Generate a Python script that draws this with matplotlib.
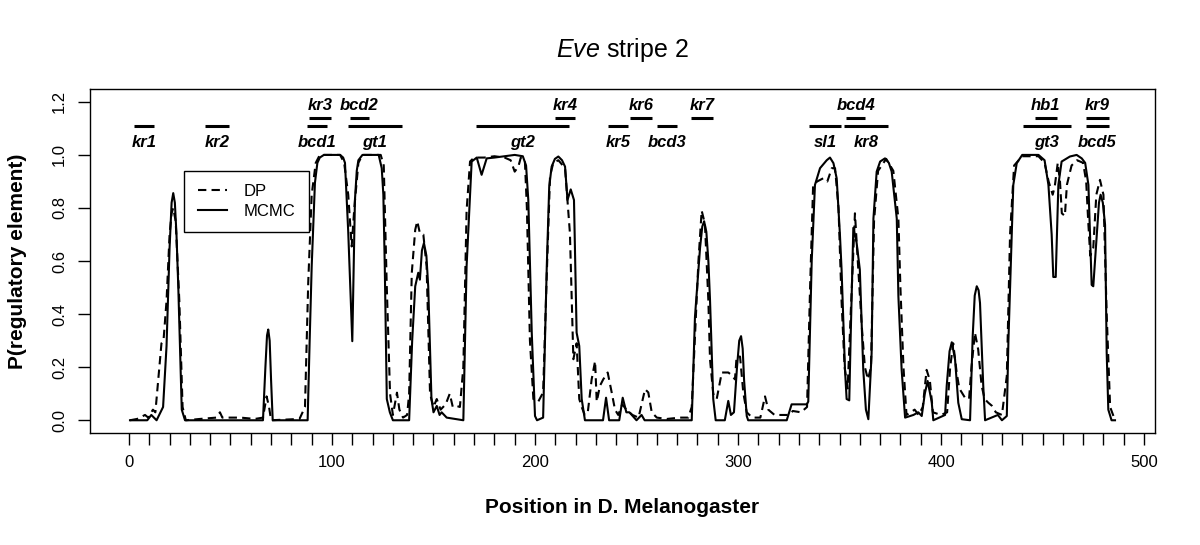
import matplotlib
matplotlib.use('Agg')
import matplotlib.pyplot as plt

plt.rcParams['font.family'] = ['Liberation Sans', 'DejaVu Sans']
plt.rcParams['mathtext.fontset'] = 'custom'
plt.rcParams['mathtext.rm'] = 'Liberation Sans'
plt.rcParams['mathtext.it'] = 'Liberation Sans:italic'

# posterior probability traces, (position, P)
mcmc_pts = [
    (0.5, 0.0), (9, 0.0), (11, 0.02), (13.6, 0.0), (15.5, 0.03), (16.8, 0.05), (18.5, 0.28),
    (20, 0.65), (21, 0.82), (21.8, 0.856), (22.6, 0.82), (23.4, 0.7), (24.3, 0.5), (26, 0.04),
    (27.6, 0.0),
    (66, 0.0), (67.2, 0.2), (68, 0.32), (68.6, 0.342), (69.3, 0.3), (70, 0.15), (70.8, 0.0),
    (88, 0.0), (89, 0.3), (90, 0.58), (91.6, 0.895), (92.8, 0.97), (94, 0.99), (96, 1.0),
    (104, 1.0), (105.5, 0.99), (106.4, 0.97), (108, 0.71), (110, 0.298), (111.3, 0.83),
    (112.2, 0.94), (113, 0.98), (115, 1.0), (123, 1.0), (124.5, 0.95), (125.3, 0.85),
    (126, 0.58), (127, 0.08), (128.5, 0.03), (130, 0.0),
    (138, 0.0), (139.5, 0.3), (141, 0.505), (142.5, 0.556), (143.3, 0.53), (144.3, 0.64),
    (145.3, 0.668), (146.5, 0.62), (147.4, 0.505), (149, 0.08), (150, 0.03), (151.6, 0.054),
    (153, 0.02), (154, 0.03), (156.5, 0.01), (164.7, 0.0),
    (166.3, 0.58), (168.8, 0.975), (171.3, 0.99), (173.7, 0.925), (176.2, 0.987), (180, 0.99),
    (185, 0.995), (190, 1.0), (194, 0.995), (195.6, 0.96), (196.7, 0.83), (198.4, 0.33),
    (200, 0.016), (201, 0.0), (204, 0.01), (205.8, 0.58), (207, 0.88), (208.2, 0.956),
    (209.8, 0.985), (211.5, 0.994), (213.3, 0.98), (214.8, 0.956), (216, 0.83), (217.6, 0.87),
    (219.2, 0.83), (220.5, 0.33), (221.8, 0.28), (223, 0.08), (224.6, 0.0),
    (233.5, 0.0), (235, 0.085), (236.5, 0.0), (241.5, 0.0), (243.2, 0.085), (245, 0.03),
    (246.5, 0.03), (250, 0.0), (252.5, 0.02), (254, 0.0),
    (277.2, 0.0), (278.8, 0.39), (281.3, 0.65), (282.4, 0.73), (283.3, 0.75), (284.4, 0.71),
    (285.4, 0.6), (286.2, 0.455), (287.8, 0.08), (289, 0.0), (293.5, 0.0), (295.2, 0.073),
    (296.5, 0.02), (298, 0.03), (299.5, 0.2), (300.6, 0.3), (301.5, 0.317), (302.3, 0.27),
    (303, 0.15), (304.3, 0.016), (305, 0.0),
    (324, 0.0), (326.4, 0.06), (333.8, 0.06), (334.6, 0.07), (336.3, 0.6), (337.9, 0.887),
    (340.4, 0.95), (343.7, 0.98), (345.3, 0.99), (347, 0.969), (348.6, 0.912), (350.2, 0.7),
    (351, 0.57), (352.7, 0.19), (353.5, 0.08), (354.8, 0.075), (355.5, 0.317), (356.8, 0.725),
    (358.4, 0.67), (360, 0.568), (361.7, 0.19), (363, 0.04), (364.2, 0.004), (365.8, 0.25),
    (366.7, 0.76), (368.3, 0.937), (370, 0.975), (372.4, 0.987), (374.3, 0.97), (375.7, 0.937),
    (378.2, 0.76), (379, 0.467), (380.6, 0.19), (382.3, 0.01),
    (386.4, 0.02), (388.8, 0.03), (390.5, 0.016), (392, 0.1), (393.4, 0.148), (395.4, 0.07),
    (396.2, 0.0), (402, 0.02), (402.8, 0.13), (404.2, 0.26), (405.3, 0.294), (406.9, 0.23),
    (408.5, 0.066), (410.2, 0.004), (414.3, 0.0), (415.6, 0.317), (416.6, 0.47), (417.6, 0.505),
    (418.5, 0.49), (419.2, 0.442), (420.8, 0.13), (421.7, 0.0), (428, 0.02), (430, 0.0),
    (432.4, 0.016), (433.2, 0.3), (435.6, 0.887), (437.3, 0.969), (440, 1.0), (448, 1.0),
    (451, 0.98), (452.9, 0.887), (454.5, 0.7), (455.3, 0.54), (456.5, 0.54), (457.8, 0.887),
    (459.4, 0.975), (463.5, 0.994), (466.8, 1.0), (469.3, 0.987), (471, 0.97), (472.6, 0.887),
    (474.2, 0.51), (475, 0.505), (476.7, 0.70), (477.8, 0.82), (478.6, 0.85), (479.7, 0.82),
    (480.8, 0.737), (481.6, 0.255), (482.4, 0.04), (484, 0.0), (485.7, 0.0),
]

dp_pts = [
    (0.5, 0.0), (4, 0.005), (7.9, 0.02), (9.5, 0.01), (11.8, 0.04), (13, 0.03), (14.4, 0.15),
    (16, 0.29), (17, 0.3), (18.5, 0.45), (20, 0.7), (21, 0.78), (21.8, 0.80), (23, 0.75),
    (24.8, 0.45), (26.4, 0.05), (28, 0.0), (35, 0.005), (43, 0.01), (44.8, 0.03), (46, 0.01),
    (55, 0.01), (62, 0.005), (66, 0.01), (67.8, 0.09), (69, 0.05), (70, 0.0), (84, 0.005),
    (86.7, 0.05), (88.3, 0.52), (90, 0.85), (92, 0.97), (94, 1.0), (104, 1.0), (106, 0.97),
    (108, 0.85), (109.7, 0.655), (111, 0.8), (113, 0.97), (115, 1.0), (124, 1.0), (125.5, 0.96),
    (127, 0.5), (128.6, 0.1), (130, 0.02), (132, 0.104), (133.2, 0.04), (135, 0.01), (137, 0.02),
    (138, 0.1), (139.3, 0.555), (141, 0.718), (142, 0.75), (143.3, 0.705), (145, 0.70),
    (146.6, 0.58), (148.3, 0.1), (150, 0.05), (151.6, 0.08), (153.5, 0.04), (156, 0.06),
    (158, 0.10), (159.5, 0.05), (161.4, 0.054), (163, 0.05), (164.7, 0.2), (166.3, 0.79),
    (168, 0.975), (170, 0.99), (175, 0.99), (180, 0.995), (185, 0.99), (188, 0.98), (190, 0.937),
    (191.8, 0.956), (193, 0.99), (195, 0.98), (196, 0.8), (197.5, 0.3), (199.2, 0.08),
    (201.6, 0.07), (204, 0.105), (205.8, 0.55), (207.4, 0.92), (209, 0.97), (211.5, 0.98),
    (214.8, 0.95), (216, 0.83), (217.2, 0.705), (218.9, 0.23), (220.5, 0.29), (221.8, 0.08),
    (223, 0.05), (224.5, 0.02), (226, 0.03), (227.9, 0.154), (229.6, 0.223), (230.4, 0.07),
    (232, 0.13), (233.6, 0.154), (235.8, 0.18), (237.8, 0.104), (239.4, 0.04), (241, 0.02),
    (243, 0.06), (245, 0.04), (248, 0.02), (251, 0.01), (254.2, 0.117), (255.8, 0.105),
    (257.5, 0.03), (260, 0.01), (265, 0.005), (271.4, 0.01), (275.5, 0.01), (277.2, 0.05),
    (280.5, 0.6), (282.1, 0.79), (283.7, 0.74), (285.4, 0.45), (286.2, 0.23), (287.8, 0.1),
    (289.5, 0.08), (292, 0.18), (295.2, 0.18), (296.9, 0.17), (298.5, 0.154), (299.3, 0.24),
    (301, 0.24), (302.6, 0.104), (304.3, 0.03), (307, 0.01), (311, 0.01), (313.3, 0.09),
    (314.9, 0.04), (318, 0.02), (325, 0.02), (327, 0.035), (331, 0.03), (334, 0.05),
    (335.5, 0.5), (337, 0.887), (339, 0.9), (342, 0.912), (344, 0.9), (346.2, 0.95),
    (347.8, 0.95), (349.5, 0.8), (351, 0.45), (352.5, 0.2), (354, 0.12), (355.5, 0.4),
    (357.6, 0.78), (359, 0.6), (361, 0.35), (362.5, 0.2), (364, 0.154), (365.5, 0.2),
    (367, 0.75), (369, 0.94), (373, 0.985), (376.5, 0.94), (379, 0.76), (380, 0.5),
    (381.5, 0.2), (383, 0.02), (385, 0.03), (387, 0.04), (389, 0.02), (391, 0.05),
    (392.9, 0.19), (394.5, 0.15), (396, 0.03), (400, 0.02), (403, 0.03), (404.5, 0.2),
    (406, 0.29), (407.7, 0.18), (409, 0.12), (411.8, 0.085), (413.8, 0.08), (415, 0.2),
    (416.7, 0.33), (418.3, 0.267), (420, 0.13), (421.5, 0.08), (423.3, 0.066), (425, 0.055),
    (427, 0.03), (430, 0.02), (432.4, 0.167), (434, 0.7), (436, 0.96), (440, 0.995),
    (448, 0.995), (451, 0.97), (453, 0.9), (455, 0.85), (456, 0.88), (457.5, 0.97),
    (458.6, 0.9), (459.5, 0.78), (461, 0.77), (462, 0.887), (464.3, 0.96), (467, 0.98),
    (470, 0.97), (471.5, 0.9), (472.5, 0.75), (473.5, 0.62), (475, 0.65), (476.5, 0.85),
    (478.3, 0.906), (480, 0.85), (481.6, 0.4), (483.3, 0.05), (485.7, 0.0),
]

# binding site annotations: name, start, end, row (1 = upper, 0 = lower)
site_names = ['kr1', 'kr2', 'bcd1', 'kr3', 'bcd2', 'gt1', 'gt2', 'kr4', 'kr5', 'kr6',
              'bcd3', 'kr7', 'sl1', 'bcd4', 'kr8', 'hb1', 'gt3', 'kr9', 'bcd5']
site_start = [2.6, 37.4, 87.7, 88.7, 108.7, 107.7, 170.8, 209.9, 235.8, 246.8,
              259.9, 277.0, 335.0, 353.2, 352.2, 446.3, 440.2, 471.3, 471.3]
site_end = [12.5, 49.4, 97.4, 99.4, 118.4, 134.5, 216.7, 219.5, 245.7, 257.6,
            269.8, 287.7, 350.6, 362.7, 373.7, 457.0, 463.9, 482.9, 482.9]
site_row = [0, 0, 0, 1, 1, 0, 0, 1, 0, 1, 0, 1, 0, 1, 0, 1, 0, 1, 0]

fig = plt.figure(figsize=(12, 5.45), dpi=100)
ax = fig.add_axes([0.075, 0.2055, 0.8875, 0.631])

mx, my = zip(*mcmc_pts)
dx, dy = zip(*dp_pts)
ax.plot(dx, dy, color='black', linewidth=1.5, linestyle=(0, (4, 2.5)), label='DP')
ax.plot(mx, my, color='black', linewidth=1.5, label='MCMC')

bar_y = {1: 1.140, 0: 1.109}
text_y = {1: 1.169, 0: 1.031}
for name, s, e, r in zip(site_names, site_start, site_end, site_row):
    ax.plot([s, e], [bar_y[r], bar_y[r]], color='black', linewidth=2.2, solid_capstyle='butt')
    ax.text((s + e) / 2, text_y[r], name, ha='center', va='baseline', fontsize=12,
            fontweight='bold', fontstyle='italic')

ax.set_xlim(-19.2, 505.4)
ax.set_ylim(-0.048, 1.248)
ax.set_xticks(range(0, 501, 10))
ax.set_xticklabels([str(v) if v % 100 == 0 else '' for v in range(0, 501, 10)])
ax.set_yticks([0, 0.2, 0.4, 0.6, 0.8, 1.0, 1.2])
ax.set_yticklabels(['0.0', '0.2', '0.4', '0.6', '0.8', '1.0', '1.2'], rotation=90, va='center')
ax.tick_params(axis='x', length=8.6, width=1, pad=7, labelsize=12)
ax.tick_params(axis='y', length=8.6, width=1, pad=8, labelsize=12)
for sp in ax.spines.values():
    sp.set_linewidth(1.0)

ax.set_title(r'$\mathit{Eve}$ stripe 2', fontsize=18, pad=23)
ax.set_xlabel('Position in D. Melanogaster', fontsize=15, fontweight='bold')
ax.set_ylabel('P(regulatory element)', fontsize=15, fontweight='bold')
ax.xaxis.set_label_coords(0.5, -0.188)
ax.yaxis.set_label_coords(-0.059, 0.5)

leg = ax.legend(loc='upper left', bbox_to_anchor=(0.0885, 0.7625), borderaxespad=0,
                fancybox=False, edgecolor='black', framealpha=1, fontsize=12,
                handlelength=1.75, handletextpad=1.0, borderpad=0.8, labelspacing=0.3)
leg.get_frame().set_linewidth(1.0)

fig.savefig('out.png', dpi=100)
